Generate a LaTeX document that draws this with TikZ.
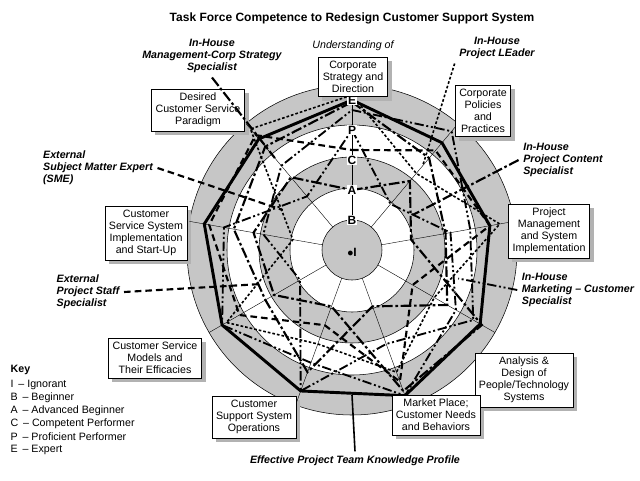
\documentclass[tikz,border=0pt]{standalone}
\usepackage{fontspec}
\setmainfont{Liberation Sans}
\pgfdeclarelayer{bg}\pgfdeclarelayer{shadow}
\pgfsetlayers{bg,shadow,main}
\begin{document}
\begin{tikzpicture}[x=0.75pt,y=-0.75pt,
  cat/.style={draw,fill=white,align=center,font=\fontsize{8}{9}\selectfont,inner sep=3pt,line width=0.5pt},
  role/.style={align=center,font=\bfseries\itshape\fontsize{8}{9}\selectfont},
  lvl/.style={font=\bfseries\fontsize{9}{9}\selectfont,fill=white,inner sep=0.5pt},
  prof/.style={line width=2.2pt,line join=round},
  mA/.style={line width=1.6pt,dash pattern=on 8pt off 2pt on 2pt off 2pt},
  mB/.style={line width=1.6pt,dash pattern=on 5pt off 3pt},
  mC/.style={line width=1.4pt,dash pattern=on 7pt off 2pt on 1.5pt off 2pt on 1.5pt off 2pt},
  mD/.style={line width=1.2pt,dash pattern=on 2pt off 1.5pt}]
\useasboundingbox (0,0) rectangle (640,480);
\node[font=\bfseries\fontsize{9}{10}\selectfont] (title) at (352,18) {Task Force Competence to Redesign Customer Support System};
\begin{pgfonlayer}{bg}
\fill[gray!45] (352,250) circle (165);
\fill[white] (352,250) circle (125);
\fill[gray!45] (352,250) circle (93);
\fill[white] (352,250) circle (62);
\fill[gray!45] (352,250) circle (30);
\foreach \r in {30,62,93,125,165} \draw[line width=0.4pt] (352,250) circle (\r);
\end{pgfonlayer}
\begin{scope}[shift={(352,250)},yscale=-1]
\coordinate (O) at (0,0);
\foreach \a in {90,50,10,-30,-70,-110,-150,170,130} \draw[line width=0.3pt] (\a:30) -- (\a:165);
\draw[mA] (90:148) -- (50:120) -- (10:95) -- (-30:110) -- (-70:60) -- (-110:130) -- (-150:100) -- (170:120) -- (130:135) -- cycle;
\draw[mB] (90:100) -- (50:130) -- (10:140) -- (-30:70) -- (-70:140) -- (-110:80) -- (-150:130) -- (170:145) -- (130:150) -- cycle;
\draw[mC] (90:140) -- (50:155) -- (10:120) -- (-30:140) -- (-70:100) -- (-110:150) -- (-150:60) -- (170:90) -- (130:110) -- cycle;
\draw[mD] (90:155) -- (50:100) -- (10:150) -- (-30:95) -- (-70:130) -- (-110:100) -- (-150:145) -- (170:60) -- (130:158) -- cycle;
\draw[mA] (90:60) -- (50:90) -- (10:60) -- (-30:150) -- (-70:150) -- (-110:60) -- (-150:90) -- (170:100) -- (130:95) -- cycle;
\draw[mC] (90:120) -- (50:60) -- (10:100) -- (-30:120) -- (-70:155) -- (-110:120) -- (-150:150) -- (170:130) -- (130:70) -- cycle;
\draw[prof] (90:150) -- (50:140) -- (10:140) -- (-30:148) -- (-70:155) -- (-110:150) -- (-150:150) -- (170:150) -- (130:145) -- cycle;
\coordinate (p1) at (130:120); \coordinate (p2) at (50:110); \coordinate (p3) at (150:80);
\coordinate (p4) at (30:70); \coordinate (p5) at (-160:100); \coordinate (p6) at (-15:110);
\coordinate (pf) at (-90:145);
\end{scope}
\node[lvl] (lE) at (352,100) {E};
\node[lvl] (lP) at (352,130) {P};
\node[lvl] (lC) at (352,160) {C};
\node[lvl] (lA) at (352,190) {A};
\node[lvl] (lB) at (352,220) {B};
\node[font=\bfseries\fontsize{9}{9}\selectfont] (lI) at (352,252) {$\bullet$I};
\foreach \n/\x/\y/\t in {
 b1/353/77/{Corporate\\Strategy and\\Direction},
 b2/198/110/{Desired\\Customer Service\\Paradigm},
 b3/483/111/{Corporate\\Policies\\and\\Practices},
 b4/146/233/{Customer\\Service System\\Implementation\\and Start-Up},
 b5/549/231/{Project\\Management\\and System\\Implementation},
 b6/155/358/{Customer Service\\Models and\\Their Efficacies},
 b7/524/380/{Analysis \&\\Design of\\People/Technology\\Systems},
 b8/254/417/{Customer\\Support System\\Operations},
 b9/436/415/{Market Place;\\Customer Needs\\and Behaviors}}{
 \node[cat] (\n) at (\x,\y) {\t};
 \begin{pgfonlayer}{shadow}
 \fill[gray!60] ([shift={(4,4)}]\n.north west) rectangle ([shift={(4,4)}]\n.south east);
 \end{pgfonlayer}
}
\node[font=\itshape\fontsize{8}{9}\selectfont] (und) at (353,46) {Understanding of};
\node[role] (r1) at (212,56) {In-House\\Management-Corp Strategy\\Specialist};
\node[role] (r2) at (497,48) {In-House\\Project LEader};
\node[role,align=left] (r3) at (98,168) {External\\Subject Matter Expert\\(SME)};
\node[role,align=left] (r4) at (563,160) {In-House\\Project Content\\Specialist};
\node[role,align=left] (r5) at (88,292) {External\\Project Staff\\Specialist};
\node[role,align=left] (r6) at (578,290) {In-House\\Marketing -- Customer\\Specialist};
\node[role] (r7) at (355,461) {Effective Project Team Knowledge Profile};
\draw[mA] (r1.south) -- (p1);
\draw[mD] (r2.south west) -- (p2);
\draw[mB] (r3.east) -- (p3);
\draw[mA] (r4.west) -- (p4);
\draw[mB] (r5.east) -- (p5);
\draw[mC] (r6.west) -- (p6);
\draw[line width=1.2pt] (r7.north) -- (pf);
\node[font=\bfseries\fontsize{8}{9}\selectfont,anchor=west] (key) at (6,370) {Key};
\foreach \i/\t in {0/{I \,-- Ignorant},1/{B \,-- Beginner},2/{A \,-- Advanced Beginner},3/{C \,-- Competent Performer},4/{P \,-- Proficient Performer},5/{E \,-- Expert}}
 \node[font=\fontsize{8}{9}\selectfont,anchor=west] (k\i) at (6,385+13*\i) {\t};
\end{tikzpicture}
\end{document}
